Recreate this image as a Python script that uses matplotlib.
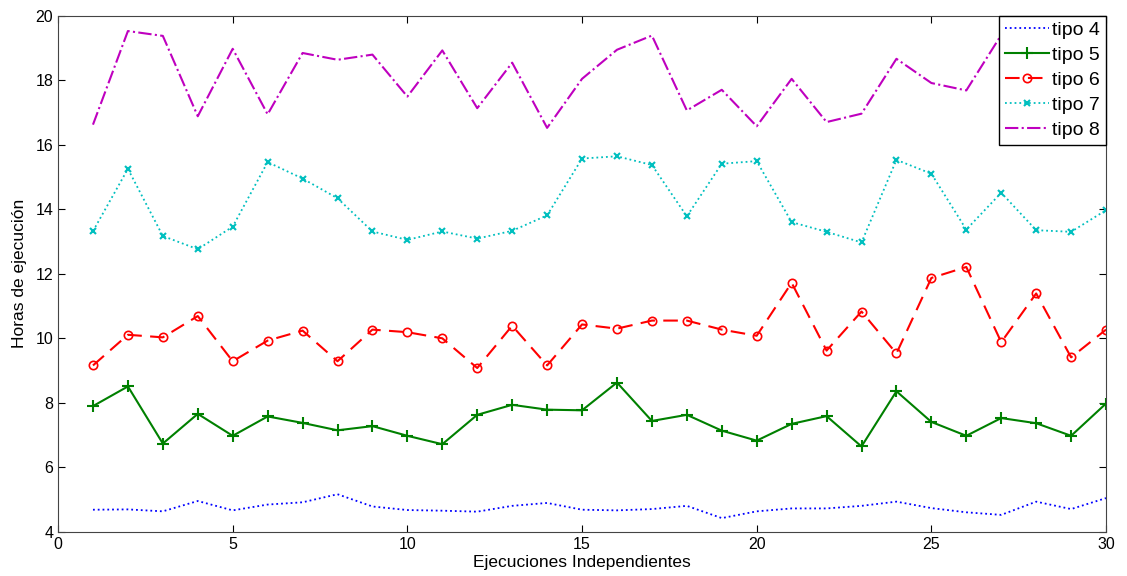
import numpy as np
import matplotlib
matplotlib.use("Agg")
import matplotlib.pyplot as plt

plt.rcParams['font.family'] = ['Liberation Sans', 'DejaVu Sans']

# Ejecuciones 1..30
runs = list(range(1, 31))

tipo4 = [4.69, 4.70, 4.64, 4.96, 4.67, 4.85, 4.92, 5.17, 4.79, 4.68,
         4.66, 4.63, 4.81, 4.90, 4.69, 4.67, 4.71, 4.81, 4.43, 4.64,
         4.73, 4.73, 4.81, 4.94, 4.74, 4.61, 4.53, 4.94, 4.71, 5.05]
tipo5 = [7.90, 8.51, 6.74, 7.66, 6.98, 7.58, 7.38, 7.15, 7.28, 6.98,
         6.72, 7.63, 7.94, 7.79, 7.77, 8.63, 7.44, 7.63, 7.14, 6.83,
         7.35, 7.59, 6.65, 8.36, 7.41, 6.98, 7.53, 7.37, 6.98, 7.98]
tipo6 = [9.16, 10.11, 10.03, 10.69, 9.29, 9.93, 10.24, 9.29, 10.27, 10.19,
         10.00, 9.08, 10.39, 9.16, 10.43, 10.30, 10.55, 10.55, 10.27, 10.08,
         11.72, 9.62, 10.83, 9.53, 11.87, 12.21, 9.88, 11.39, 9.41, 10.27]
tipo7 = [13.32, 15.25, 13.17, 12.76, 13.46, 15.46, 14.95, 14.34, 13.31, 13.05,
         13.31, 13.09, 13.33, 13.81, 15.57, 15.64, 15.37, 13.78, 15.41, 15.49,
         13.60, 13.30, 12.97, 15.53, 15.10, 13.37, 14.51, 13.35, 13.30, 13.97]
tipo8 = [16.62, 19.52, 19.37, 16.88, 18.97, 16.94, 18.84, 18.63, 18.79, 17.49,
         18.92, 17.13, 18.54, 16.52, 18.04, 18.94, 19.38, 17.06, 17.70, 16.57,
         18.04, 16.70, 16.96, 18.66, 17.91, 17.68, 19.40, 18.60, 19.10, 18.40]

fig = plt.figure(figsize=(11.27, 5.76), dpi=100)
ax = fig.add_axes([0.0515, 0.0764, 0.9299, 0.8966])

ax.plot(runs, tipo4, ':', color='blue', lw=1.3, label='tipo 4')
ax.plot(runs, tipo5, '-', color=(0, 0.5, 0), lw=1.5, marker='+', ms=8, mew=1.5, label='tipo 5')
ax.plot(runs, tipo6, '--', color='red', lw=1.5, marker='o', ms=6, mfc='none', mew=1.2,
        dashes=(7, 4), label='tipo 6')
ax.plot(runs, tipo7, ':', color=(0, 0.75, 0.75), lw=1.3, marker='x', ms=5, mew=1.5, label='tipo 7')
ax.plot(runs, tipo8, '-.', color=(0.75, 0, 0.75), lw=1.5, label='tipo 8')

ax.set_xlim(0, 30)
ax.set_ylim(4, 20)
ax.set_xticks(range(0, 31, 5))
ax.set_yticks(range(4, 21, 2))
ax.tick_params(direction='in', top=True, right=True, labelsize=11.5, length=5)
ax.set_xlabel('Ejecuciones Independientes', fontsize=12.5, labelpad=2)
ax.set_ylabel('Horas de ejecución', fontsize=12.5, labelpad=6)
for s in ax.spines.values():
    s.set_color('#444444')

leg = ax.legend(loc='upper right', borderaxespad=0, fontsize=14, fancybox=False,
                framealpha=1, edgecolor='black', handlelength=2.3,
                handletextpad=0.15, labelspacing=0.38, borderpad=0.3)
leg.get_frame().set_linewidth(1.0)

fig.savefig('out.png', dpi=100)
